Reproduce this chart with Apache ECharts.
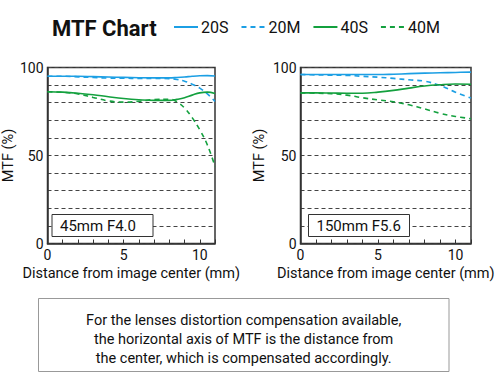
<!DOCTYPE html>
<html><head><meta charset="utf-8">
<script src="https://cdn.jsdelivr.net/npm/echarts@6/dist/echarts.min.js"></script>
<style>html,body{margin:0;padding:0;background:#fff}#c{width:500px;height:389px}</style>
</head><body><div id="c"></div>
<script>
var FONT = 'Roboto, sans-serif';
var seriesNames = ['20S','20M','40S','40M'];
var panelLabels = ['45mm F4.0','150mm F5.6'];
var yTicks = [0,50,100];
var xTicks = [0,5,10];

// Left panel: 45mm F4.0
var xLeft = [0,1,2,3,4,5,6,7,8,8.5,9,9.5,10,10.5,11];
var left20S = [95,95,95,94.8,94.6,94.4,94.2,94.1,94.1,94.3,94.6,95,95.3,95.4,95.2];
var left20M = [95,95,94.7,94.3,94.0,93.9,93.8,93.8,93.7,93.2,92.2,90.5,88.3,85,80.7];
var left40S = [86.2,86,85.4,84.5,83.4,82.4,81.7,81.3,81.3,81.9,82.8,84.3,85.6,86,85.2];
var left40M = [86.2,85.9,85,83,81,80.3,80.8,81.8,82,80.5,77,71.5,64.6,56,43.8];

// Right panel: 150mm F5.6
var xRight = [0,1,2,3,4,5,6,7,8,9,10,11];
var right20S = [96,96,96,96,96,96,96.2,96.5,96.8,97,97.2,97.4];
var right20M = [96,95.8,95.6,95.5,95,94.5,93.8,93,92.2,89.8,86,82.6];
var right40S = [85.6,85.6,85.5,85.4,85.4,86,87,88.3,89.5,90.2,90.6,90.5];
var right40M = [85.6,85.4,85.1,84.3,82.8,81.6,80.5,78.8,76.5,74,72.2,70.9];

var noteLines = ['For the lenses distortion compensation available,',
  'the horizontal axis of MTF is the distance from',
  'the center, which is compensated accordingly.'];

var BLUE = '#1c9fe4', GREEN = '#13a03e';
var styles = {
  '20S': {color: BLUE, type: 'solid'},
  '20M': {color: BLUE, type: [5,4]},
  '40S': {color: GREEN, type: 'solid'},
  '40M': {color: GREEN, type: [5,4]}
};
function pairs(xs, ys){ return xs.map(function(x,i){ return [x, ys[i]]; }); }
function mk(name, idx, xs, ys){
  return {name: name, type: 'line', xAxisIndex: idx, yAxisIndex: idx, smooth: 0.4,
    symbol: 'none', data: pairs(xs, ys), color: styles[name].color,
    lineStyle: {color: styles[name].color, width: 1.6, type: styles[name].type}};
}
var grids = [{left: 44, top: 67.5, width: 171, height: 176},
             {left: 300.5, top: 67.5, width: 170.5, height: 176}];
function xAxis(i){
  return {type: 'value', gridIndex: i, min: 0, max: 11, interval: 1,
    name: 'Distance from image center (mm)', nameLocation: 'middle', nameGap: 22,
    nameTextStyle: {fontFamily: FONT, fontSize: 14.5, color: '#111'},
    axisLine: {lineStyle: {color: '#333', width: 1.5}},
    axisTick: {inside: true, length: 4, lineStyle: {color: '#333'}},
    axisLabel: {fontFamily: FONT, fontSize: 14, color: '#111', margin: 4,
      formatter: function(v){ return xTicks.indexOf(v) >= 0 ? String(v) : ''; }},
    splitLine: {show: false}};
}
function yAxis(i, gap){
  return {type: 'value', gridIndex: i, min: 0, max: 100, interval: 10,
    name: 'MTF (%)', nameLocation: 'middle', nameGap: gap,
    nameTextStyle: {fontFamily: FONT, fontSize: 14.5, color: '#111'},
    axisLine: {show: true, lineStyle: {color: '#333', width: 1.5}},
    axisTick: {show: false},
    axisLabel: {fontFamily: FONT, fontSize: 14, color: '#111', margin: 4,
      formatter: function(v){ return yTicks.indexOf(v) >= 0 ? String(v) : ''; }},
    splitLine: {show: true, lineStyle: {color: '#444', width: 1, type: [4,3]}}};
}
function labelBox(x, text){
  return {type: 'group', left: x, top: 214, z: 100, children: [
    {type: 'rect', z: 100, shape: {x: 0, y: 0, width: 101, height: 22},
     style: {fill: '#fff', stroke: '#333', lineWidth: 1}},
    {type: 'text', z: 101, x: 8, y: 11, style: {text: text, font: '15px ' + FONT, fill: '#111',
     textVerticalAlign: 'middle', verticalAlign: 'middle'}}
  ]};
}
function noteText(i, y){
  return {type: 'text', x: 243.7, y: y, z: 100, style: {text: noteLines[i], font: '14.5px ' + FONT, fill: '#111',
    textAlign: 'center', textVerticalAlign: 'middle', align: 'center', verticalAlign: 'middle'}};
}
var option = {
  backgroundColor: '#fff',
  animation: false,
  title: {text: 'MTF Chart', left: 47, top: 12,
    textStyle: {fontFamily: 'Roboto', fontWeight: 'bold', fontSize: 22, color: '#111'}},
  legend: {left: 173, top: 19, padding: 0, itemWidth: 24, itemHeight: 14, itemGap: 12,
    data: seriesNames,
    itemStyle: {color: 'transparent', borderWidth: 0, opacity: 0},
    textStyle: {fontFamily: FONT, fontSize: 16, color: '#111', padding: [0,0,0,-2]}},
  grid: grids.map(function(g){ return Object.assign({show: true, borderColor: '#333', borderWidth: 1.5, backgroundColor: 'transparent'}, g); }),
  xAxis: [xAxis(0), xAxis(1)],
  yAxis: [yAxis(0, 25), yAxis(1, 34)],
  series: [
    mk('20S',0,xLeft,left20S), mk('20M',0,xLeft,left20M), mk('40S',0,xLeft,left40S), mk('40M',0,xLeft,left40M),
    mk('20S',1,xRight,right20S), mk('20M',1,xRight,right20M), mk('40S',1,xRight,right40S), mk('40M',1,xRight,right40M)
  ],
  graphic: [
    labelBox(51.5, panelLabels[0]),
    labelBox(308, panelLabels[1]),
    {type: 'rect', z: 99, shape: {x: 38.5, y: 298.5, width: 410.5, height: 73},
     style: {fill: '#fff', stroke: '#999', lineWidth: 1}},
    noteText(0, 320), noteText(1, 339), noteText(2, 358)
  ]
};
var chart = echarts.init(document.getElementById('c'), null, {renderer: 'svg'});
chart.setOption(option);
</script></body></html>
